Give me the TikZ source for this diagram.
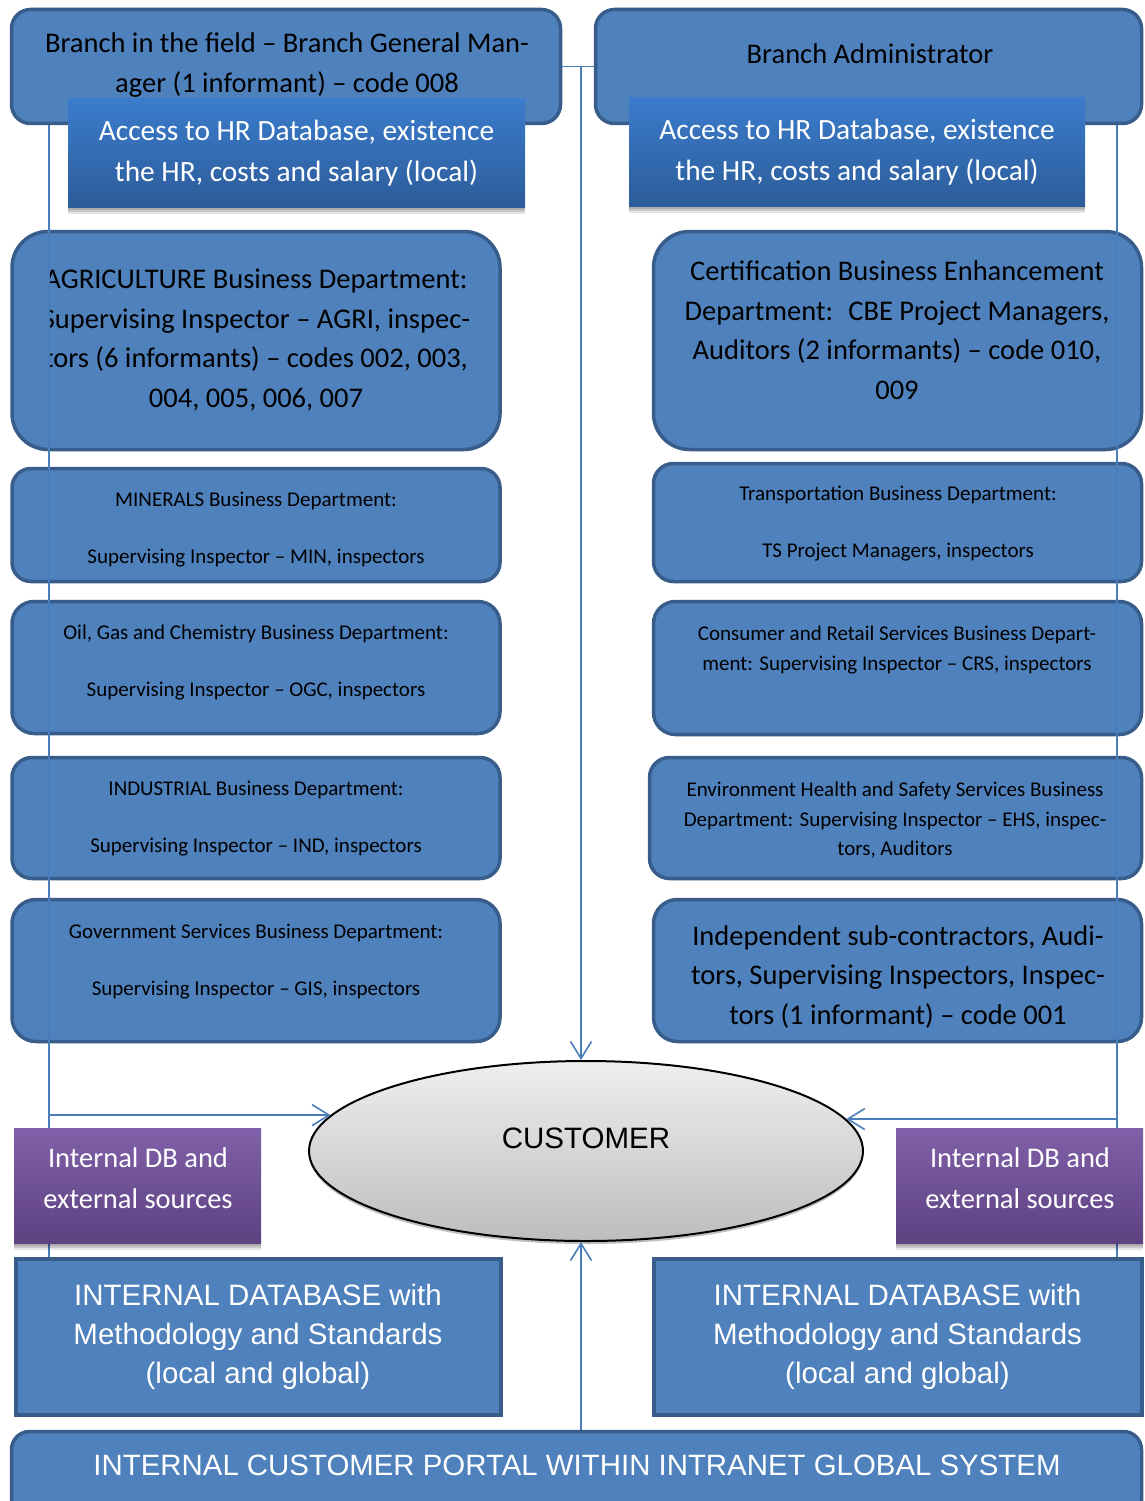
\documentclass[tikz,border=0pt]{standalone}
\usepackage{fontspec}
\setmainfont{Carlito}
\newfontfamily\arialfont{Liberation Sans}
\usetikzlibrary{arrows.meta,shapes.geometric,shadows}

\definecolor{boxfill}{HTML}{4F81BD}
\definecolor{boxline}{HTML}{385D8A}
\definecolor{connblue}{HTML}{4A7EBB}
\definecolor{hrtop}{HTML}{3B7CCC}
\definecolor{hrbot}{HTML}{2C5C99}
\definecolor{purtop}{HTML}{8060A8}
\definecolor{purbot}{HTML}{5E4282}
\definecolor{elltop}{HTML}{EFEFEF}
\definecolor{ellbot}{HTML}{BDBDBD}

\tikzset{
  dept/.style={draw=boxline, fill=boxfill, line width=3.5pt,
    rounded corners=#1, inner sep=0pt},
  dept/.default=20pt,
  dbbox/.style={draw=boxline, fill=boxfill, line width=4pt, inner sep=0pt,
    text=white, align=center, font=\arialfont\fontsize{29.5}{39}\selectfont},
  % layered shadows give a soft edge below the box
  softshadow/.style={
    drop shadow={opacity=0.10, shadow xshift=0pt, shadow yshift=-7pt, fill=black},
    drop shadow={opacity=0.12, shadow xshift=0pt, shadow yshift=-5pt, fill=black},
    drop shadow={opacity=0.15, shadow xshift=0pt, shadow yshift=-3pt, fill=black}},
  hrbox/.style={top color=hrtop, bottom color=hrbot, draw=none, inner sep=0pt,
    softshadow, text=white, align=center,
    font=\fontsize{29.4}{41}\selectfont},
  purbox/.style={top color=purtop, bottom color=purbot, draw=none,
    inner sep=0pt, softshadow},
  bigtxt/.style={font=\fontsize{28.5}{39.5}\selectfont, align=center,
    inner sep=0pt, text=black},
  smalltxt/.style={font=\fontsize{21}{29.5}\selectfont, align=center,
    inner sep=0pt, text=black},
  whitetxt/.style={font=\fontsize{28.5}{41}\selectfont, align=center,
    inner sep=0pt, text=white},
  conn/.style={draw=connblue, line width=1.6pt},
  arr/.style={-{Straight Barb[length=17pt,width=21pt]}},
}

\begin{document}
\begin{tikzpicture}[x=1pt,y=-1pt]
\useasboundingbox (0,0) rectangle (1145,1501);
\fill[white] (0,0) rectangle (1145,1501);

% ---- management row
\node[dept=19pt, minimum width=549pt, minimum height=114pt] (tl) at (286,66.5) {};
\node[dept=19pt, minimum width=546pt, minimum height=114pt] (tr) at (868.5,66.5) {};
\node[bigtxt, font=\fontsize{28.5}{40}\selectfont] (tlT) at (287,65)
  {Branch in the field – Branch General Man-\\ager (1 informant) – code 008};
\node[bigtxt] (trT) at (870,53.5) {Branch Administrator};

\node[hrbox, minimum width=457pt, minimum height=108pt] (hrL) at (296.5,153)
  {Access to HR Database, existence\\the HR, costs and salary (local)};
\node[hrbox, minimum width=456pt, minimum height=108pt] (hrR) at (857,152)
  {Access to HR Database, existence\\the HR, costs and salary (local)};

% ---- business departments, left column
\node[dept=36pt, minimum width=488pt, minimum height=218pt] (agri) at (256,340.5) {};
\begin{scope}
  \clip (48,232) rectangle (500,449);
  \node[bigtxt] (agriT) at (256,340)
    {AGRICULTURE Business Department:\\Supervising Inspector – AGRI, inspec-\\tors (6 informants) – codes 002, 003,\\004, 005, 006, 007};
\end{scope}

\node[dept=19pt, minimum width=488pt, minimum height=113pt] (mine) at (256,525) {};
\node[smalltxt] (mineT) at (256,529.5)
  {MINERALS Business Department:\\[27.5pt]Supervising Inspector – MIN, inspectors};

\node[dept=22pt, minimum width=488pt, minimum height=132pt] (oil) at (256,667.5) {};
\node[smalltxt] (oilT) at (256,662.5)
  {Oil, Gas and Chemistry Business Department:\\[27.5pt]Supervising Inspector – OGC, inspectors};

\node[dept=20pt, minimum width=488pt, minimum height=121pt] (ind) at (256,818) {};
\node[smalltxt] (indT) at (256,818.5)
  {INDUSTRIAL Business Department:\\[27.5pt]Supervising Inspector – IND, inspectors};

\node[dept=24pt, minimum width=488pt, minimum height=142pt] (gov) at (256,970.5) {};
\node[smalltxt] (govT) at (256,961.5)
  {Government Services Business Department:\\[27.5pt]Supervising Inspector – GIS, inspectors};

% ---- business departments, right column
\node[dept=36pt, minimum width=488pt, minimum height=218pt] (cert) at (897.5,340.5) {};
\node[bigtxt] (certT) at (897,330)
  {Certification Business Enhancement\\Department:~ CBE Project Managers,\\Auditors (2 informants) – code 010,\\009};

\node[dept=20pt, minimum width=488pt, minimum height=118pt] (trans) at (897.5,522.5) {};
\node[smalltxt] (transT) at (898,523.5)
  {Transportation Business Department:\\[27.5pt]TS Project Managers, inspectors};

\node[dept=22pt, minimum width=488pt, minimum height=133pt] (cons) at (897.5,668) {};
\node[smalltxt] (consT) at (897,650)
  {Consumer and Retail Services Business Depart-\\ment: Supervising Inspector – CRS, inspectors};

\node[dept=20pt, minimum width=492pt, minimum height=121pt] (env) at (895.5,818) {};
\node[smalltxt] (envT) at (895,820.5)
  {Environment Health and Safety Services Business\\Department: Supervising Inspector – EHS, inspec-\\tors, Auditors};

\node[dept=24pt, minimum width=488pt, minimum height=142pt] (indep) at (897.5,970.5) {};
\node[bigtxt] (indepT) at (898,977)
  {Independent sub-contractors, Audi-\\tors, Supervising Inspectors, Inspec-\\tors (1 informant) – code 001};

% ---- customer
\node[ellipse, draw=black, line width=2pt, top color=elltop, bottom color=ellbot,
  minimum width=554pt, minimum height=180pt, inner sep=0pt,
  drop shadow={opacity=0.25, shadow xshift=0pt, shadow yshift=-3pt, fill=black}]
  (cust) at (586,1151) {};
\node[font=\arialfont\fontsize{29.5}{34}\selectfont, inner sep=0pt] (custT) at (586,1138) {CUSTOMER};

% ---- databases and portal
\node[dbbox, minimum width=485pt, minimum height=156pt] (dbL) at (258,1336.5)
  {INTERNAL DATABASE with\\Methodology and Standards\\(local and global)};
\node[dbbox, minimum width=488pt, minimum height=156pt] (dbR) at (897.5,1336.5)
  {INTERNAL DATABASE with\\Methodology and Standards\\(local and global)};
\node[dept=18pt, minimum width=1130pt, minimum height=87pt] (portal) at (576.5,1475) {};
\node[font=\arialfont\fontsize{29.4}{34}\selectfont, text=white, inner sep=0pt]
  (portalT) at (577,1465) {INTERNAL CUSTOMER PORTAL WITHIN INTRANET GLOBAL SYSTEM};

% ---- connectors
\coordinate (lx) at (49,0);
\coordinate (rx) at (1117,0);
\coordinate (mx) at (581,0);
\draw[conn] (lx |- tl.south) -- (lx |- dbL.north);
\draw[conn] (rx |- tr.south) -- (rx |- dbR.north);
\draw[conn, arr] (lx |- cust.172.5) -- (cust.172.5);
\draw[conn, arr] (rx |- cust.7.5) -- (cust.7.5);
\draw[conn] (tl.east) -- (tr.west);
\draw[conn, arr] (mx |- tl.east) -- (mx |- cust.north);
\draw[conn, arr] (mx |- portal.north) -- (mx |- cust.south);

% ---- data sources, drawn over the side connectors
\node[purbox, minimum width=247pt, minimum height=115pt] (srcL) at (137.5,1185.5) {};
\node[whitetxt] (srcLT) at (138,1178.5) {Internal DB and\\external sources};
\node[purbox, minimum width=247pt, minimum height=115pt] (srcR) at (1019.5,1185.5) {};
\node[whitetxt] (srcRT) at (1020,1178.5) {Internal DB and\\external sources};
\end{tikzpicture}
\end{document}
